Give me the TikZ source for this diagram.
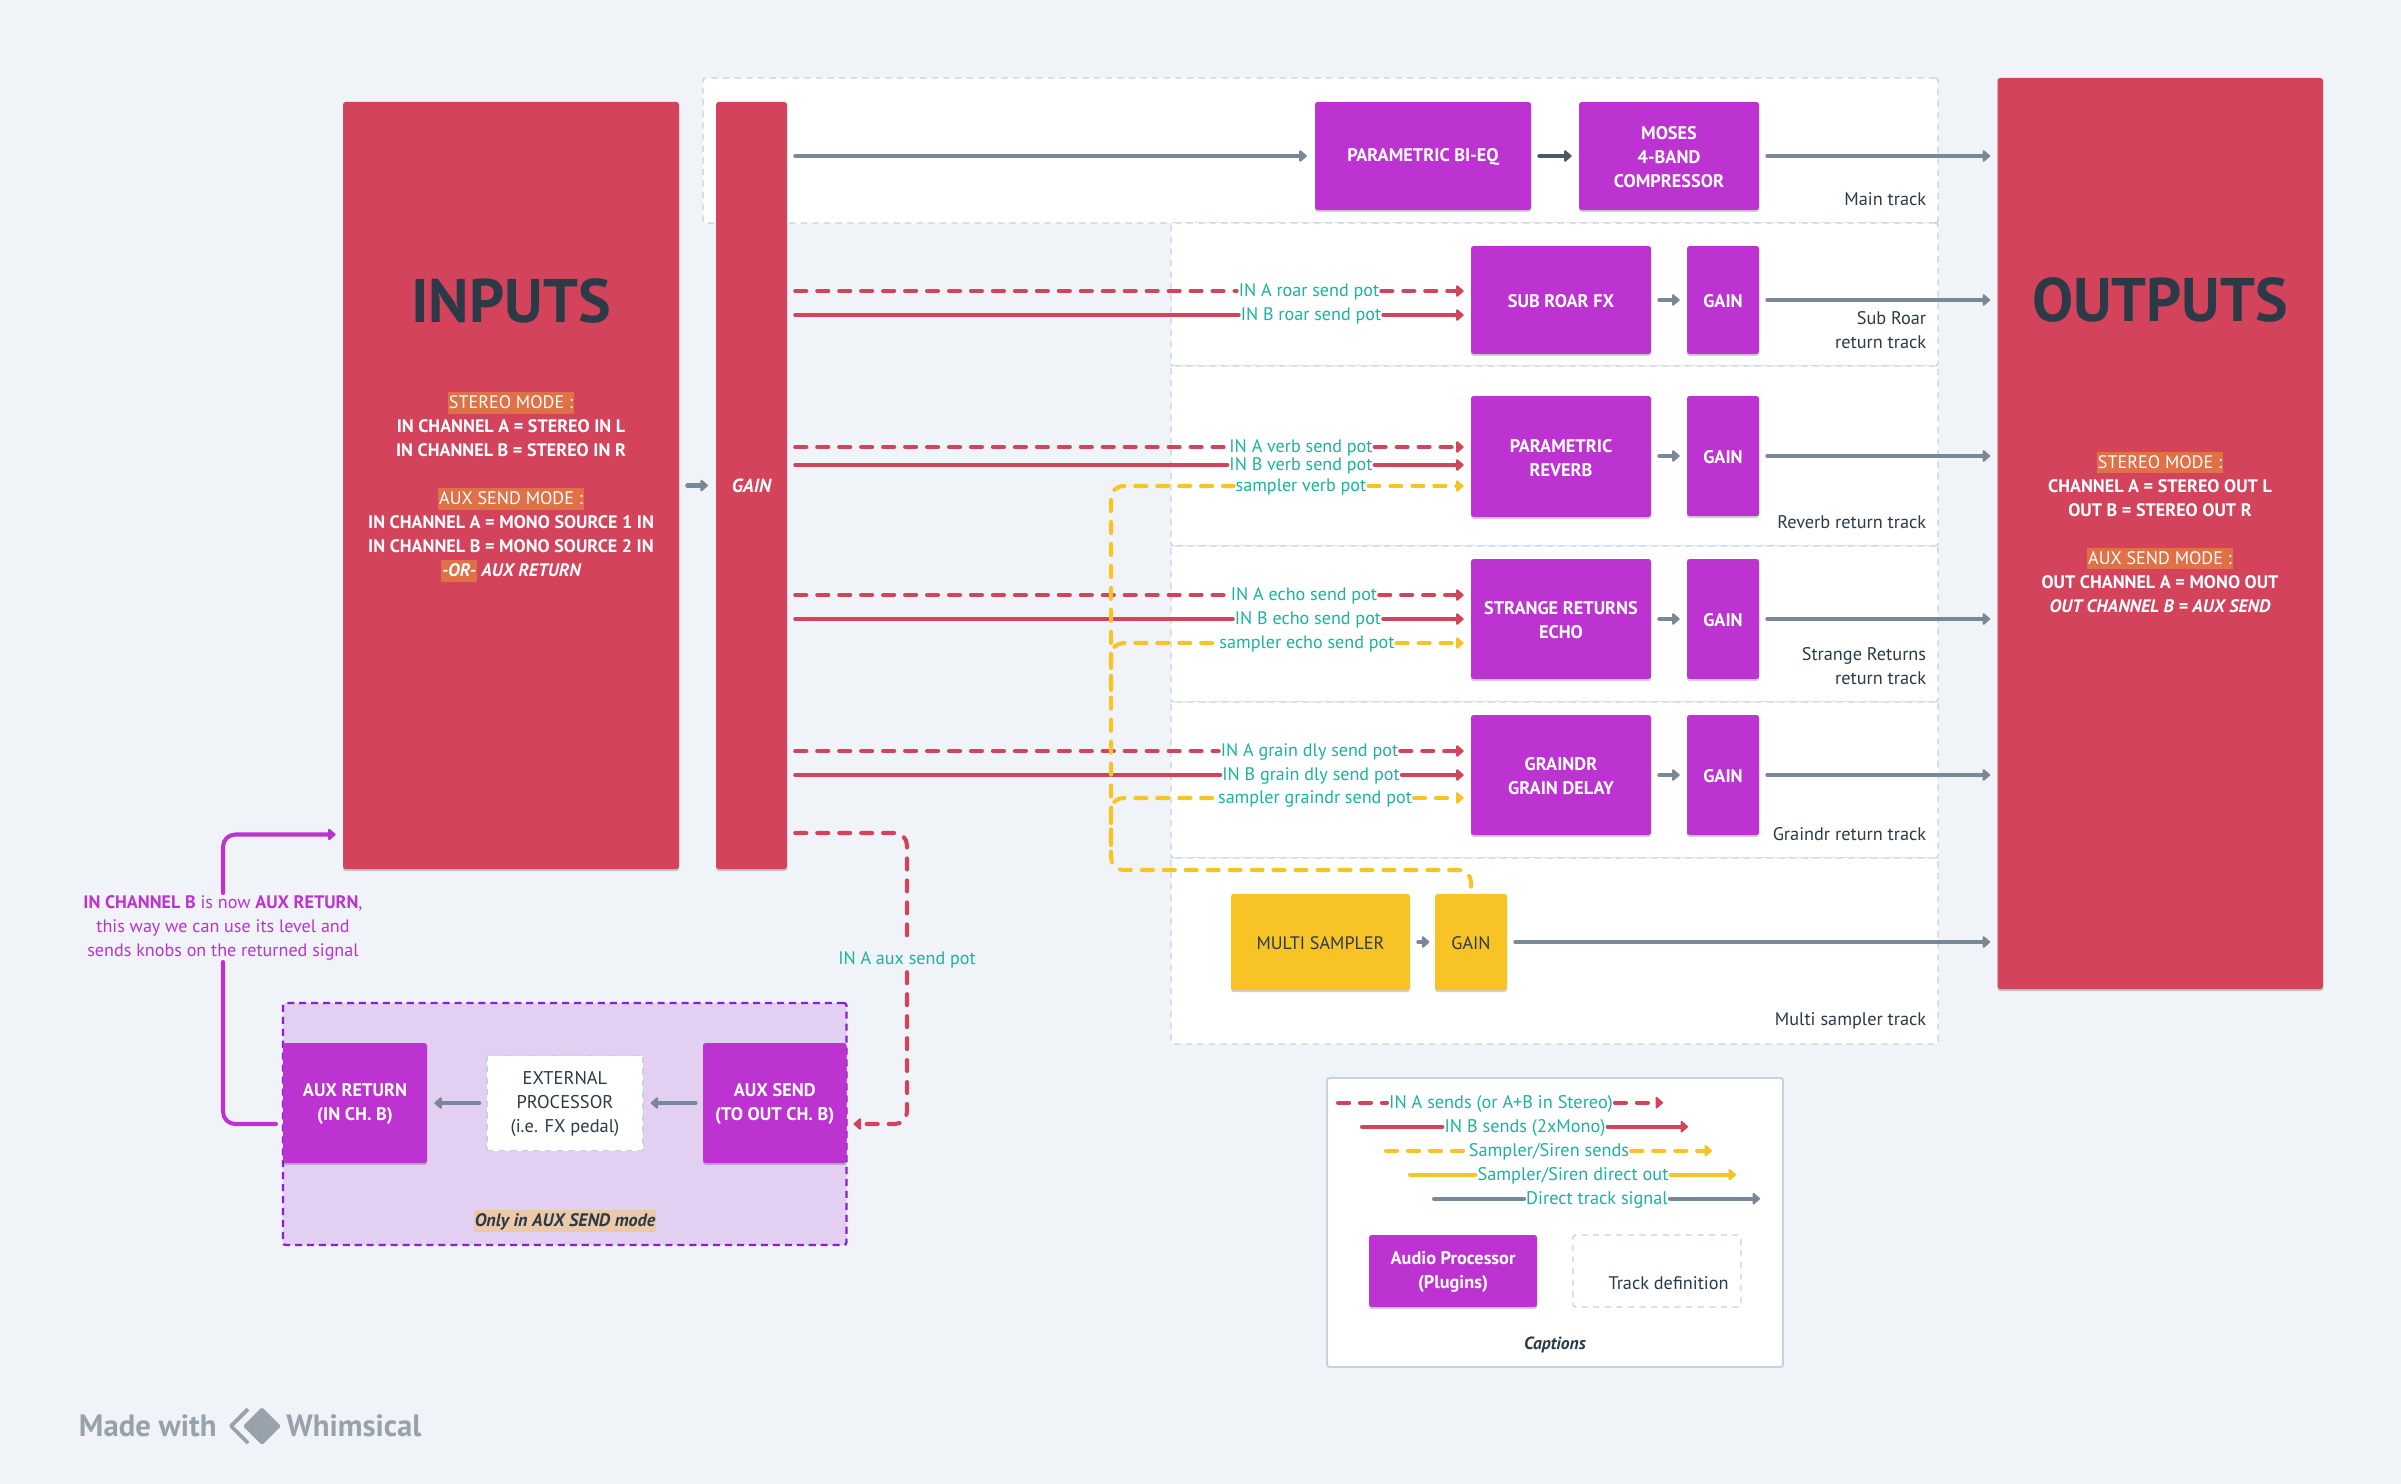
\documentclass[tikz,border=0pt]{standalone}
\usepackage{fontspec}
\setmainfont{PT Sans}
\usetikzlibrary{arrows.meta,shadows,calc}
\definecolor{bgc}{HTML}{F0F3F7}
\definecolor{redc}{HTML}{D3445C}
\definecolor{purc}{HTML}{BD33D1}
\definecolor{yelc}{HTML}{F8C325}
\definecolor{gryc}{HTML}{788896}
\definecolor{drkg}{HTML}{4A5A68}
\definecolor{tealc}{HTML}{1AB39E}
\definecolor{inkc}{HTML}{2C3A47}
\definecolor{trk}{HTML}{C5D2DF}
\definecolor{hlc}{HTML}{E07047}
\definecolor{hlb}{HTML}{ECC9A8}
\definecolor{auxf}{HTML}{E3CFF2}
\definecolor{auxb}{HTML}{8A1FD6}
\definecolor{wmk}{HTML}{98A2AD}
\newcommand{\hlx}[2]{{\setlength{\fboxsep}{0pt}\colorbox{#1}{\rule[-2.6pt]{0pt}{12pt}\kern0.5pt #2\kern0.5pt}}}
\newcommand{\boxat}[7]{%
  \pgfmathsetmacro{\bxw}{(#4-#2)*0.02}\pgfmathsetmacro{\bxh}{(#5-#3)*0.02}%
  \pgfmathsetmacro{\bxcx}{(#2+#4)/2}\pgfmathsetmacro{\bxcy}{(#3+#5)/2}%
  \node[#6,minimum width=\bxw cm,minimum height=\bxh cm,inner sep=0pt] (#1) at (\bxcx,\bxcy) {};
  \node[#6 txt,inner sep=0pt] (#1t) at ([yshift=-0.8pt]#1.center) {#7};}
\newcommand{\sendline}[6]{%
  \coordinate (y#6) at (0,#2);
  \node[potlabel] (#6) at (#4,#2) {#5};
  \draw[#1,shorten <=4.5pt] (gainbar.east |- y#6) -- (#6.west);
  \draw[#1,tip,shorten >=4pt] (#6.east) -- (#3.west |- y#6);}
\tikzset{
  x=0.02cm,y=-0.02cm,
  sd/.style={drop shadow={shadow xshift=0pt,shadow yshift=-1.2pt,opacity=.18,fill=black}},
  redbox/.style={fill=redc,rounded corners=1.5pt,sd},
  redbox txt/.style={},
  procbox/.style={fill=purc,rounded corners=1.5pt,sd},
  procbox txt/.style={text=white,align=center,font=\fontsize{10.4}{13.66}\selectfont\bfseries},
  yelbox/.style={fill=yelc,rounded corners=1.5pt,sd},
  yelbox txt/.style={text=inkc,align=center,font=\fontsize{10.3}{13.66}\selectfont},
  track/.style={fill=white,draw=trk,line width=0.8pt,dash pattern=on 3.6pt off 3pt,rounded corners=1.5pt},
  track txt/.style={},
  auxarea/.style={fill=auxf,draw=auxb,line width=1.3pt,dash pattern=on 4pt off 2.8pt,rounded corners=1.5pt},
  auxarea txt/.style={},
  extbox/.style={fill=white,draw=trk,line width=0.8pt,dash pattern=on 3.6pt off 3pt},
  extbox txt/.style={text=inkc,align=center,font=\fontsize{10.5}{13.66}\selectfont},
  legbox/.style={fill=white,draw=trk,line width=1.1pt,rounded corners=1.5pt},
  legbox txt/.style={},
  title/.style={text=inkc,font=\fontsize{35}{38}\selectfont\bfseries},
  modetext/.style={text=white,align=center,font=\fontsize{10.3}{13.66}\selectfont\bfseries},
  tracklabel/.style={text=inkc,align=right,anchor=east,font=\fontsize{10.4}{13.66}\selectfont,inner sep=0pt},
  potlabel/.style={text=tealc,font=\fontsize{10.3}{13.66}\selectfont,inner sep=1pt,text height=8.5pt,text depth=1.7pt},
  legtext/.style={potlabel,font=\fontsize{10.4}{13.66}\selectfont},
  sig/.style={line width=2.3pt,line cap=round,gryc},
  rs/.style={line width=2.3pt,line cap=round,redc},
  rd/.style={rs,dash pattern=on 6.3pt off 6.2pt},
  ys/.style={line width=2.3pt,line cap=round,yelc},
  yd/.style={ys,dash pattern=on 6.3pt off 6.2pt},
  ps/.style={line width=2.3pt,line cap=round,purc},
  tip/.style={-{Triangle[round,length=4.6pt,width=7.6pt]}},
}
\begin{document}
\begin{tikzpicture}
\useasboundingbox[fill=bgc] (0,0) rectangle (2401,1484);
% tracks
\boxat{trMain}{703}{78}{1938}{223}{track}{}
\boxat{trSub}{1171}{223}{1938}{366}{track}{}
\boxat{trRev}{1171}{366}{1938}{546}{track}{}
\boxat{trEcho}{1171}{546}{1938}{702}{track}{}
\boxat{trGrain}{1171}{702}{1938}{858}{track}{}
\boxat{trSamp}{1171}{858}{1938}{1044}{track}{}
% big blocks
\boxat{inputs}{343}{102}{679}{869}{redbox}{}
\boxat{gainbar}{716}{102}{787}{869}{redbox}{}
\boxat{outputs}{1997.5}{78}{2323}{989}{redbox}{}
\node[title] (intitle) at (511,301) {INPUTS};
\node[title] (outtitle) at (2160,300) {OUTPUTS};
\node[modetext] (inmode) at (511,487) {\mdseries\hlx{hlc}{STEREO MODE :}\\
IN CHANNEL A = STEREO IN L\\IN CHANNEL B = STEREO IN R\\[13.66pt]
\mdseries\hlx{hlc}{AUX SEND MODE :}\\
IN CHANNEL A = MONO SOURCE 1 IN\\IN CHANNEL B = MONO SOURCE 2 IN\\
\hlx{hlc}{\itshape -OR-} \itshape AUX RETURN};
\node[modetext] (outmode) at (2160,532.5) {\mdseries\hlx{hlc}{STEREO MODE :}\\
CHANNEL A = STEREO OUT L\\OUT B = STEREO OUT R\\[13.66pt]
\mdseries\hlx{hlc}{AUX SEND MODE :}\\
OUT CHANNEL A = MONO OUT\\\itshape OUT CHANNEL B = AUX SEND};
\node[modetext,font=\fontsize{10.8}{13.66}\selectfont\bfseries\itshape] (gaintxt) at (751.5,486) {GAIN};
% processors
\boxat{biq}{1315}{102}{1531}{210}{procbox}{PARAMETRIC BI-EQ}
\boxat{moses}{1579}{102}{1759}{210}{procbox}{MOSES\\4-BAND\\COMPRESSOR}
\boxat{subfx}{1471}{246}{1651}{354}{procbox}{SUB ROAR FX}
\boxat{subgain}{1687}{246}{1759}{354}{procbox}{GAIN}
\boxat{revfx}{1471}{396}{1651}{517}{procbox}{PARAMETRIC\\REVERB}
\boxat{revgain}{1687}{396}{1759}{516}{procbox}{GAIN}
\boxat{echofx}{1471}{559}{1651}{679}{procbox}{STRANGE RETURNS\\ECHO}
\boxat{echogain}{1687}{559}{1759}{679}{procbox}{GAIN}
\boxat{grainfx}{1471}{715}{1651}{835}{procbox}{GRAINDR\\GRAIN DELAY}
\boxat{graingain}{1687}{715}{1759}{835}{procbox}{GAIN}
\boxat{sampler}{1231}{894}{1410}{990}{yelbox}{MULTI SAMPLER}
\boxat{sampgain}{1435}{894}{1507}{990}{yelbox}{GAIN}
% track labels
\node[tracklabel] (lbMain) at (1926.5,199.5) {Main track};
\node[tracklabel] (lbSub) at (1926.5,330.5) {Sub Roar\\return track};
\node[tracklabel] (lbRev) at (1926.5,522) {Reverb return track};
\node[tracklabel] (lbEcho) at (1926.5,666) {Strange Returns\\return track};
\node[tracklabel] (lbGrain) at (1926.5,834) {Graindr return track};
\node[tracklabel] (lbSamp) at (1926.5,1020.5) {Multi sampler track};
% direct signals
\draw[sig,tip,shorten <=4.5pt,shorten >=4.4pt] (inputs.east) -- (gainbar.west);
\draw[sig,tip,shorten <=4.5pt,shorten >=4.5pt] (gainbar.east |- biq.west) -- (biq.west);
\draw[sig,drkg,tip,shorten <=4.5pt,shorten >=4pt] (biq.east) -- (moses.west);
\draw[sig,tip,shorten <=4.5pt,shorten >=4pt] (moses.east) -- (outputs.west |- moses.east);
\foreach \fx/\gn in {subfx/subgain,revfx/revgain,echofx/echogain,grainfx/graingain}{
  \draw[sig,tip,shorten <=4.5pt,shorten >=4pt] (\fx.east |- \gn.west) -- (\gn.west);
  \draw[sig,tip,shorten <=4.5pt,shorten >=4pt] (\gn.east) -- (outputs.west |- \gn.east);
}
\draw[sig,tip,shorten <=4.5pt,shorten >=3pt] (sampler.east) -- (sampgain.west);
\draw[sig,tip,shorten <=4.5pt,shorten >=4pt] (sampgain.east) -- (outputs.west |- sampgain.east);
% sends
\sendline{rd}{291}{subfx}{1309}{IN A roar send pot}{sAroar}
\sendline{rs}{315}{subfx}{1311}{IN B roar send pot}{sBroar}
\sendline{rd}{447}{revfx}{1301}{IN A verb send pot}{sAverb}
\sendline{rs}{465}{revfx}{1301}{IN B verb send pot}{sBverb}
\sendline{rd}{595}{echofx}{1304}{IN A echo send pot}{sAecho}
\sendline{rs}{619}{echofx}{1308}{IN B echo send pot}{sBecho}
\sendline{rd}{751}{grainfx}{1309.5}{IN A grain dly send pot}{sAgrain}
\sendline{rs}{775}{grainfx}{1311}{IN B grain dly send pot}{sBgrain}
% sampler sends
\node[potlabel] (sYverb) at (1301,486) {sampler verb pot};
\node[potlabel] (sYecho) at (1307,643) {sampler echo send pot};
\node[potlabel] (sYgrain) at (1315,798) {sampler graindr send pot};
\coordinate (trunk) at (1111,870);
\coordinate (brE) at (1111,690);
\coordinate (brG) at (1111,845);
\draw[yd,rounded corners=7pt] ($(sampgain.north)+(0,-7)$) -- (sampgain.north |- trunk) -- (trunk) -- (trunk |- sYverb) -- (sYverb.west);
\draw[yd,rounded corners=7pt] (brE) -- (trunk |- sYecho) -- (sYecho.west);
\draw[yd,rounded corners=7pt] (brG) -- (trunk |- sYgrain) -- (sYgrain.west);
\draw[yd,tip,shorten >=4pt] (sYverb.east) -- (revfx.west |- sYverb);
\draw[yd,tip,shorten >=4pt] (sYecho.east) -- (echofx.west |- sYecho);
\draw[yd,tip,shorten >=4pt] (sYgrain.east) -- (grainfx.west |- sYgrain);
% aux block
\boxat{auxblock}{283}{1003}{846.5}{1245}{auxarea}{}
\boxat{auxret}{283}{1043}{427}{1163}{procbox}{AUX RETURN\\(IN CH. B)}
\boxat{auxsend}{703}{1043}{846.5}{1163}{procbox}{AUX SEND\\(TO OUT CH. B)}
\boxat{extproc}{487}{1055.5}{643}{1150.5}{extbox}{EXTERNAL\\PROCESSOR\\(i.e. FX pedal)}
\node[text=inkc,font=\fontsize{10.3}{13.66}\selectfont\bfseries\itshape,inner sep=0pt] (onlyaux) at (565,1221) {\hlx{hlb}{Only in AUX SEND mode}};
\draw[sig,tip,shorten <=4pt,shorten >=4pt] (auxsend.west) -- (extproc.east);
\draw[sig,tip,shorten <=4pt,shorten >=4pt] (extproc.west) -- (auxret.east);
% aux send/return connectors
\node[potlabel] (auxpot) at (907,959) {IN A aux send pot};
\coordinate (axo) at (907,833);
\coordinate (axi) at (846.5,1124);
\draw[rd,rounded corners=7pt,shorten <=4.5pt,shorten >=4.5pt] (gainbar.east |- axo) -- (axo) -- (auxpot.north);
\draw[rd,tip,rounded corners=7pt,shorten <=1.2pt,shorten >=4pt] (auxpot.south) -- (auxpot.south |- axi) -- (axi);
\node[text=purc,align=center,font=\fontsize{10.3}{13.66}\selectfont,inner sep=1pt] (auxnote) at (223,927.5) {\textbf{IN CHANNEL B} is now \textbf{AUX RETURN},\\this way we can use its level and\\sends knobs on the returned signal};
\coordinate (axr) at (283,1124);
\coordinate (axt) at (223,834.5);
\draw[ps,rounded corners=7pt,shorten <=4pt] (axr) -- (axr -| auxnote.south) -- (auxnote.south);
\draw[ps,tip,rounded corners=7pt,shorten >=4pt] (auxnote.north) -- (axt) -- (inputs.west |- axt);
% legend
\boxat{legend}{1327}{1078}{1783}{1367}{legbox}{}
\node[legtext] (lg1) at (1501,1102.7) {IN A sends (or A+B in Stereo)};
\node[legtext] (lg2) at (1525,1126.7) {IN B sends (2xMono)};
\node[legtext] (lg3) at (1549,1150.7) {Sampler/Siren sends};
\node[legtext] (lg4) at (1573,1174.7) {Sampler/Siren direct out};
\node[legtext] (lg5) at (1597,1198.7) {Direct track signal};
\coordinate (ls1) at (1338,1102.7); \coordinate (le1) at (1663,1102.7);
\coordinate (ls2) at (1362,1126.7); \coordinate (le2) at (1688,1126.7);
\coordinate (ls3) at (1386,1150.7); \coordinate (le3) at (1712,1150.7);
\coordinate (ls4) at (1410,1174.7); \coordinate (le4) at (1736,1174.7);
\coordinate (ls5) at (1434,1198.7); \coordinate (le5) at (1760,1198.7);
\draw[rd] (ls1) -- (lg1.west); \draw[rd,tip] (lg1.east) -- (le1);
\draw[rs] (ls2) -- (lg2.west); \draw[rs,tip] (lg2.east) -- (le2);
\draw[yd] (ls3) -- (lg3.west); \draw[yd,tip] (lg3.east) -- (le3);
\draw[ys] (ls4) -- (lg4.west); \draw[ys,tip] (lg4.east) -- (le4);
\draw[sig] (ls5) -- (lg5.west); \draw[sig,tip] (lg5.east) -- (le5);
\boxat{lgproc}{1369}{1235}{1537}{1307}{procbox}{Audio Processor\\(Plugins)}
\boxat{lgtrack}{1573}{1235}{1741}{1307}{track}{}
\node[tracklabel] (lgtracktxt) at (1729,1283) {Track definition};
\node[text=inkc,font=\fontsize{10}{13.66}\selectfont\bfseries\itshape] (caps) at (1555,1344.5) {Captions};
% watermark
\node[text=wmk,font=\fontsize{17.5}{20}\selectfont\bfseries,anchor=east,inner sep=0pt] (wm1) at (217,1426) {Made with};
\node[text=wmk,font=\fontsize{17.5}{20}\selectfont\bfseries,anchor=west,inner sep=0pt] (wm2) at (286,1426) {Whimsical};
\fill[wmk,rounded corners=1pt] (243,1426) -- (262,1407) -- (281,1426) -- (262,1445) -- cycle;
\draw[wmk,line width=2.2pt,line join=round] (248,1409) -- (231,1426) -- (248,1443);
\end{tikzpicture}
\end{document}
